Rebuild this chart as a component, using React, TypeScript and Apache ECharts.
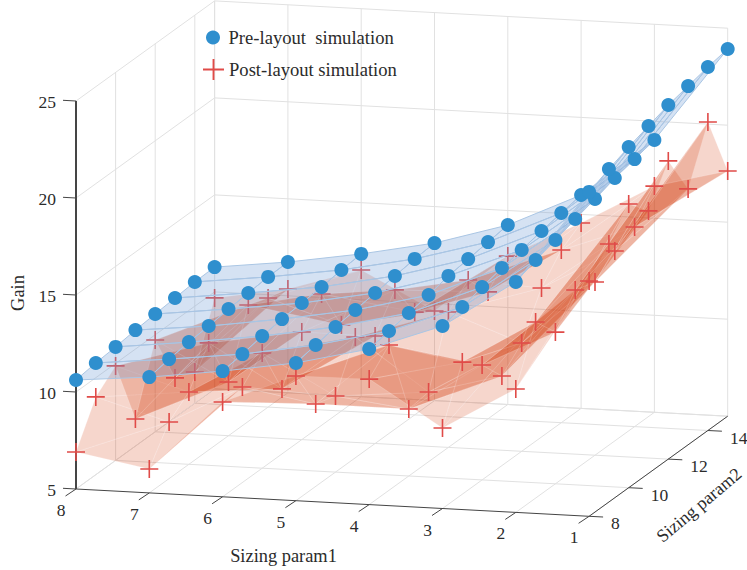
import React, { useEffect, useRef } from "react";
import * as echarts from "echarts";

const param1Values = [8, 7, 6, 5, 4, 3, 2, 1];
const param2Values = [8, 9, 10, 11, 12, 13, 14, 15];
const param2Ticks = [8, 10, 12, 14];
const gainTicks = [5, 10, 15, 20, 25];

const preP8 = [10.62, 10.76, 10.85, 10.98, 11.07, 11.16, 11.25, 11.28];
const preP7 = [10.97, 11.16, 11.3, 11.39, 11.53, 11.62, 11.71, 11.74];
const preP6 = [11.48, 11.62, 11.81, 11.95, 12.04, 12.13, 12.27, 12.36];
const preP5 = [12.1, 12.29, 12.48, 12.62, 12.76, 12.9, 13.04, 13.12];
const preP4 = [13.02, 13.21, 13.4, 13.59, 13.84, 13.97, 14.11, 14.25];
const preP3 = [14.41, 14.65, 14.94, 15.19, 15.38, 15.62, 15.81, 16.0];
const preP2 = [16.88, 17.27, 17.57, 17.91, 18.21, 18.55, 18.79, 19.04];
const preP1 = [21.72, 22.16, 22.56, 22.91, 23.25, 23.49, 23.74, 23.93];

const postP8 = [6.91, 9.01, 9.87, 6.4, 9.73, 7.04, 6.61, 9.69];
const postP7 = [6.23, 7.92, 8.73, 10.52, 7.77, 11.0, 10.62, 10.35];
const postP6 = [9.89, 9.92, 10.94, 8.35, 10.55, 11.77, 9.43, 11.53];
const postP5 = [11.43, 9.25, 8.92, 11.23, 10.54, 12.18, 10.3, 9.62];
const postP4 = [11.47, 12.49, 8.45, 8.59, 11.98, 12.89, 11.54, 12.65];
const postP3 = [9.15, 11.81, 10.92, 9.62, 10.58, 12.68, 13.9, 14.56];
const postP2 = [11.36, 14.08, 12.82, 14.25, 13.93, 14.79, 15.29, 16.66];
const postP1 = [17.13, 18.3, 19.62, 18.53, 20.37, 18.19, 20.9, 17.64];

const preRows = [preP8, preP7, preP6, preP5, preP4, preP3, preP2, preP1];
const postRows = [postP8, postP7, postP6, postP5, postP4, postP3, postP2, postP1];

const PRE_NAME = "Pre-layout  simulation";
const POST_NAME = "Post-layout simulation";

const W = 747;
const H = 570;
const SERIF = '"Liberation Serif", "Times New Roman", serif';
const TEXT = "#2b2b2b";
const CROSS =
  "path://M-9 -0.8H-0.8V-9H0.8V-0.8H9V0.8H0.8V9H-0.8V0.8H-9Z";

// Orthographic view of the (param1, param2, gain) box, in page pixels.
type Pt = [number, number];
function project(p1: number, p2: number, g: number): Pt {
  return [
    76 + (8 - p1) * 73.3 + (p2 - 8) * 19.8,
    489 + (8 - p1) * 3.9 - (p2 - 8) * 14.3 - (g - 5) * 19.4,
  ];
}

const P1_FRONT = 8;
const P1_BACK = 1;
const P2_MIN = 8;
const P2_MAX = 15;
const G_MIN = 5;
const G_MAX = 25;

function gridSegments(): Pt[][] {
  const s: Pt[][] = [];
  // floor
  param1Values.forEach((p) => s.push([project(p, P2_MIN, G_MIN), project(p, P2_MAX, G_MIN)]));
  [10, 12, 14, 15].forEach((q) => s.push([project(P1_FRONT, q, G_MIN), project(P1_BACK, q, G_MIN)]));
  // side wall and back wall
  gainTicks.forEach((g) => {
    s.push([project(P1_FRONT, P2_MIN, g), project(P1_FRONT, P2_MAX, g)]);
    s.push([project(P1_FRONT, P2_MAX, g), project(P1_BACK, P2_MAX, g)]);
  });
  [10, 12, 14, 15].forEach((q) => s.push([project(P1_FRONT, q, G_MIN), project(P1_FRONT, q, G_MAX)]));
  param1Values.forEach((p) => s.push([project(p, P2_MAX, G_MIN), project(p, P2_MAX, G_MAX)]));
  return s;
}

function axisSegments(): { seg: Pt[]; w: number }[] {
  const s: { seg: Pt[]; w: number }[] = [];
  const c0 = project(P1_FRONT, P2_MIN, G_MIN);
  const c1 = project(P1_BACK, P2_MIN, G_MIN);
  const c2 = project(P1_BACK, P2_MAX, G_MIN);
  s.push({ seg: [c0, c1], w: 1 });
  s.push({ seg: [c1, c2], w: 1 });
  s.push({ seg: [c0, project(P1_FRONT, P2_MIN, G_MAX)], w: 2 });
  param1Values.forEach((p) => {
    const a = project(p, P2_MIN, G_MIN);
    s.push({ seg: [a, [a[0] - 10.5, a[1] + 7]], w: 1 });
  });
  param2Ticks.forEach((q) => {
    const a = project(P1_BACK, q, G_MIN);
    s.push({ seg: [a, [a[0] + 14, a[1] + 0.7]], w: 1 });
  });
  gainTicks.forEach((g) => {
    const a = project(P1_FRONT, P2_MIN, g);
    s.push({ seg: [a, [a[0] - 13, a[1] - 0.7]], w: 1 });
  });
  return s;
}

function surfaceNodes(rows: number[][]): Pt[][] {
  return rows.map((row, r) => row.map((g, k) => project(param1Values[r], param2Values[k], g)));
}

function triangles(rows: number[][]): Pt[][] {
  const n = surfaceNodes(rows);
  const out: Pt[][] = [];
  for (let r = 0; r < n.length - 1; r++) {
    for (let k = 0; k < n[r].length - 1; k++) {
      out.push([n[r][k], n[r + 1][k], n[r + 1][k + 1]]);
      out.push([n[r][k], n[r + 1][k + 1], n[r][k + 1]]);
    }
  }
  return out;
}

function quads(rows: number[][]): Pt[][] {
  const n = surfaceNodes(rows);
  const out: Pt[][] = [];
  for (let r = 0; r < n.length - 1; r++) {
    for (let k = 0; k < n[r].length - 1; k++) {
      out.push([n[r][k], n[r + 1][k], n[r + 1][k + 1], n[r][k + 1]]);
    }
  }
  return out;
}

function polygonSeries(name: string, polys: Pt[][], z: number, style: any) {
  return {
    type: "custom",
    name,
    coordinateSystem: "cartesian2d",
    z,
    silent: true,
    clip: false,
    data: polys.map((p, i) => [p[0][0], p[0][1], i]),
    encode: { x: 0, y: 1 },
    renderItem: (params: any, api: any) => ({
      type: "polygon",
      shape: { points: polys[params.dataIndex].map((q) => api.coord(q)) },
      style,
    }),
  };
}

function lineSeries(name: string, segs: { seg: Pt[]; w: number }[], z: number, color: string) {
  return {
    type: "custom",
    name,
    coordinateSystem: "cartesian2d",
    z,
    silent: true,
    clip: false,
    data: segs.map((s, i) => [s.seg[0][0], s.seg[0][1], i]),
    encode: { x: 0, y: 1 },
    renderItem: (params: any, api: any) => {
      const s = segs[params.dataIndex];
      const a = api.coord(s.seg[0]);
      const b = api.coord(s.seg[1]);
      return {
        type: "line",
        shape: { x1: a[0], y1: a[1], x2: b[0], y2: b[1] },
        style: { stroke: color, lineWidth: s.w, fill: null },
      };
    },
  };
}

function txt(text: string, x: number, y: number, align: string, size = 17.5, rotation = 0) {
  return {
    type: "text",
    x,
    y,
    rotation,
    silent: true,
    z: 50,
    style: {
      text,
      x: 0,
      y: 0,
      fill: TEXT,
      font: `${size}px ${SERIF}`,
      align,
      verticalAlign: "middle",
    },
  };
}

function buildOption() {
  const texts: any[] = [];
  gainTicks.forEach((g) => {
    const a = project(P1_FRONT, P2_MIN, g);
    texts.push(txt(String(g), 56, a[1] + 1, "right"));
  });
  param1Values.forEach((p) => {
    const a = project(p, P2_MIN, G_MIN);
    texts.push(txt(String(p), a[0] - 15, a[1] + 21, "center"));
  });
  param2Ticks.forEach((q) => {
    const a = project(P1_BACK, q, G_MIN);
    texts.push(txt(String(q), a[0] + 22, a[1] + 7, "left"));
  });
  texts.push(txt("Sizing param1", 283.5, 556, "center", 18.4));
  texts.push(txt("Sizing param2", 699, 505, "center", 18, (40 * Math.PI) / 180));
  texts.push(txt("Gain", 18, 293, "center", 18.4, Math.PI / 2));

  const points = (rows: number[][]) => surfaceNodes(rows).flat();

  const legendBase = {
    orient: "horizontal",
    selectedMode: false,
    itemGap: 0,
    padding: 0,
    textStyle: { fontFamily: SERIF, fontSize: 18.6, color: TEXT },
  };

  return {
    animation: false,
    backgroundColor: "#ffffff",
    grid: { left: 0, top: 0, width: W, height: H, show: false },
    xAxis: { type: "value", min: 0, max: W, show: false },
    yAxis: { type: "value", min: 0, max: H, inverse: true, show: false },
    legend: [
      {
        ...legendBase,
        left: 206,
        top: 28,
        itemWidth: 21,
        itemHeight: 14,
        data: [{ name: PRE_NAME, icon: "circle" }],
      },
      {
        ...legendBase,
        left: 203,
        top: 59,
        itemWidth: 21,
        itemHeight: 21,
        data: [{ name: POST_NAME, icon: CROSS }],
      },
    ],
    graphic: { elements: texts },
    series: [
      lineSeries("box", gridSegments().map((seg) => ({ seg, w: 1 })), 1, "#e1e1e1"),
      lineSeries("axes", axisSegments(), 2, "#454545"),
      polygonSeries("post surface", triangles(postRows), 3, {
        fill: "rgba(210,50,0,0.2)",
        stroke: "rgba(255,255,255,0.3)",
        lineWidth: 0.6,
      }),
      {
        type: "scatter",
        name: POST_NAME,
        z: 4,
        symbol: CROSS,
        symbolSize: 18,
        silent: true,
        itemStyle: { color: "#e04b48", opacity: 1 },
        data: points(postRows),
      },
      polygonSeries("pre surface", quads(preRows), 5, {
        fill: "rgba(116,160,215,0.3)",
        stroke: "#aac6e4",
        lineWidth: 1,
      }),
      {
        type: "scatter",
        name: PRE_NAME,
        z: 6,
        symbol: "circle",
        symbolSize: 14,
        silent: true,
        itemStyle: { color: "#2f8fce", opacity: 1 },
        data: points(preRows),
      },
    ],
  };
}

export default function App() {
  const ref = useRef<HTMLDivElement>(null);
  useEffect(() => {
    const chart = echarts.init(ref.current as HTMLDivElement, undefined, { renderer: "svg" });
    chart.setOption(buildOption() as any);
    return () => chart.dispose();
  }, []);
  return <div ref={ref} style={{ position: "absolute", left: 0, top: 0, width: W, height: H }} />;
}
